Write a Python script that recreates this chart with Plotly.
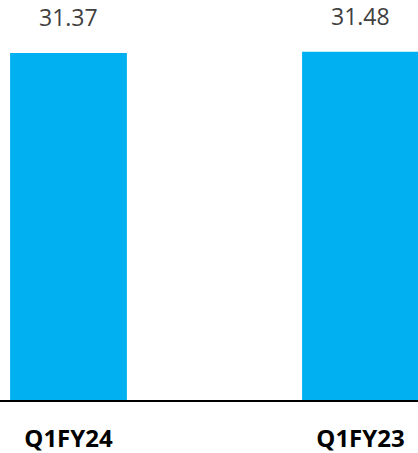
import plotly.graph_objects as go

categories = ["Q1FY24", "Q1FY23"]
values = [31.37, 31.48]
value_labels = ["31.37", "31.48"]

BAR_COLOR = "#00B0F0"
TEXT_GREY = "#404040"

fig = go.Figure(go.Bar(
    x=categories,
    y=values,
    width=0.40,
    marker=dict(color=BAR_COLOR, line=dict(width=0)),
    hoverinfo="skip",
))

# value labels above the bars
for cat, val, lab in zip(categories, values, value_labels):
    fig.add_annotation(
        x=cat, y=val, text=lab,
        showarrow=False, yanchor="bottom", yshift=18,
        font=dict(family="Open Sans, sans-serif", size=23, color=TEXT_GREY),
    )

fig.update_layout(
    width=418, height=453,
    margin=dict(l=0, r=0, t=0, b=53),
    paper_bgcolor="white",
    plot_bgcolor="white",
    showlegend=False,
    xaxis=dict(
        type="category",
        range=[-0.2346, 1.197],
        showline=True, linecolor="black", linewidth=2,
        showgrid=False, zeroline=False,
        ticks="", ticklabelstandoff=16,
        tickfont=dict(family="Open Sans, sans-serif", size=24, color="black", weight="bold"),
    ),
    yaxis=dict(
        range=[0, 36.16],
        visible=False, showgrid=False, zeroline=False,
    ),
)

# drop the default page margin so the figure sits at the window's corner
fig.write_html(
    "out.html",
    config={"displayModeBar": False},
    post_script="document.body.style.margin='0';",
)
